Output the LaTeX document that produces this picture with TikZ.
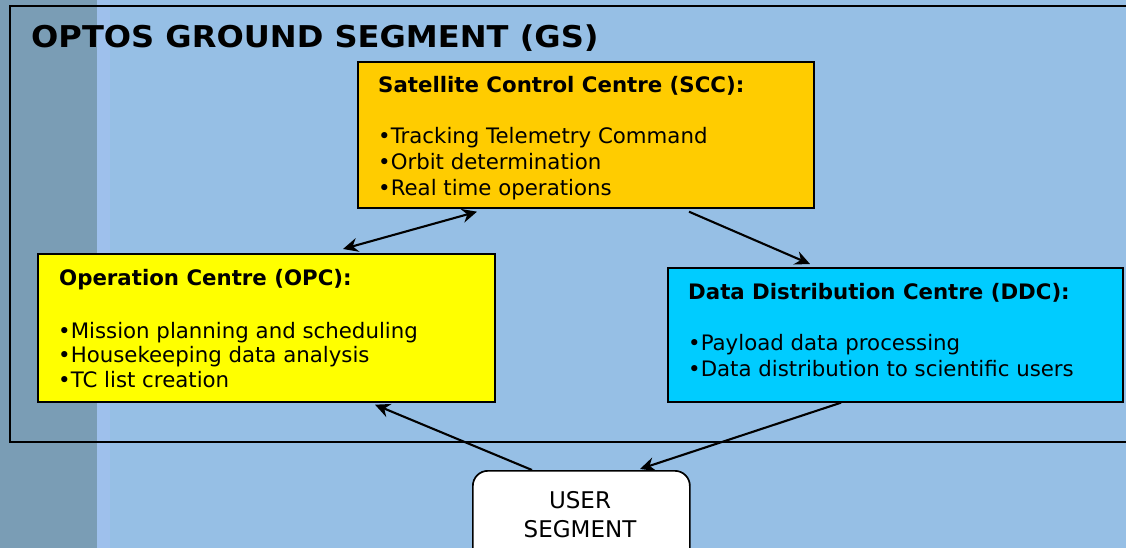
\documentclass[tikz,border=0pt]{standalone}
\usepackage{fontspec}
\setmainfont{DejaVu Sans}
\newfontfamily\ttlfont{DejaVu Sans}[FakeStretch=1.07]
\usetikzlibrary{arrows.meta,calc}
\definecolor{bgmain}{RGB}{150,191,229}
\definecolor{bgleft}{RGB}{122,157,181}
\definecolor{bgband}{RGB}{158,192,236}
\definecolor{sccfill}{RGB}{255,204,0}
\definecolor{opcfill}{RGB}{255,255,0}
\definecolor{ddcfill}{RGB}{0,204,255}
\begin{document}
\begin{tikzpicture}[x=1pt,y=-1pt,
  >={Stealth[length=15pt,width=14pt,inset=5pt]},
  box/.style={draw=black,line width=1.7pt,anchor=north west,inner sep=0pt},
  txt/.style={anchor=base west,inner sep=0pt,font=\fontsize{21.3}{25}\selectfont},
  hd/.style={anchor=base west,inner sep=0pt,font=\fontsize{21.3}{25}\selectfont\bfseries},
  usr/.style={anchor=base,inner sep=0pt,font=\fontsize{23}{27}\selectfont},
  arr/.style={line width=2.1pt,->},
  darr/.style={line width=2.1pt,<->}]
\useasboundingbox (0,0) rectangle (1126,548);
\fill[bgmain] (0,0) rectangle (1126,548);
\fill[bgleft] (0,0) rectangle (97,548);
\fill[bgband] (97,0) rectangle (110,548);
\draw[line width=1.9pt] (10,6) rectangle (1140,442);
\node[anchor=base west,inner sep=0pt,font=\ttlfont\fontsize{30}{34}\selectfont\bfseries] (title) at (31,48) {OPTOS GROUND SEGMENT (GS)};
% SCC
\node[box,fill=sccfill,minimum width=456,minimum height=146] (scc) at (357,61) {};
\node[hd] (scch) at (378,93) {Satellite Control Centre (SCC):};
\node[txt] (scc1) at (378,144) {•Tracking Telemetry Command};
\node[txt] (scc2) at (378,170) {•Orbit determination};
\node[txt] (scc3) at (378,196) {•Real time operations};
% OPC
\node[box,fill=opcfill,minimum width=457,minimum height=148] (opc) at (37,253) {};
\node[hd] (opch) at (59,285) {Operation Centre (OPC):};
\node[txt] (opc1) at (58,338) {•Mission planning and scheduling};
\node[txt] (opc2) at (58,362.5) {•Housekeeping data analysis};
\node[txt] (opc3) at (58,387) {•TC list creation};
% DDC
\node[box,fill=ddcfill,minimum width=455,minimum height=134] (ddc) at (667,267) {};
\node[hd] (ddch) at (688,299) {Data Distribution Centre (DDC):};
\node[txt] (ddc1) at (688,350) {•Payload data processing};
\node[txt] (ddc2) at (688,376) {•Data distribution to scientific users};
% USER
\node[box,fill=white,rounded corners=15pt,minimum width=217,minimum height=100] (user) at (472,470) {};
\node[usr] (user1) at (580,508) {USER};
\node[usr] (user2) at (580,537) {SEGMENT};
% connectors
\coordinate (a1) at ($(opc.north west)+(306,-4)$);
\coordinate (a2) at ($(scc.south west)+(120,3)$);
\coordinate (b1) at ($(scc.south west)+(332,3)$);
\coordinate (b2) at ($(ddc.north west)+(143,-3)$);
\coordinate (c1) at ($(user.north west)+(60,0)$);
\coordinate (c2) at ($(opc.south west)+(338,2)$);
\coordinate (d1) at ($(ddc.south west)+(174,0)$);
\coordinate (d2) at ($(user.north west)+(168,-1)$);
\draw[darr] (a1) -- (a2);
\draw[arr] (b1) -- (b2);
\draw[arr] (c1) -- (c2);
\draw[arr] (d1) -- (d2);
\end{tikzpicture}
\end{document}
